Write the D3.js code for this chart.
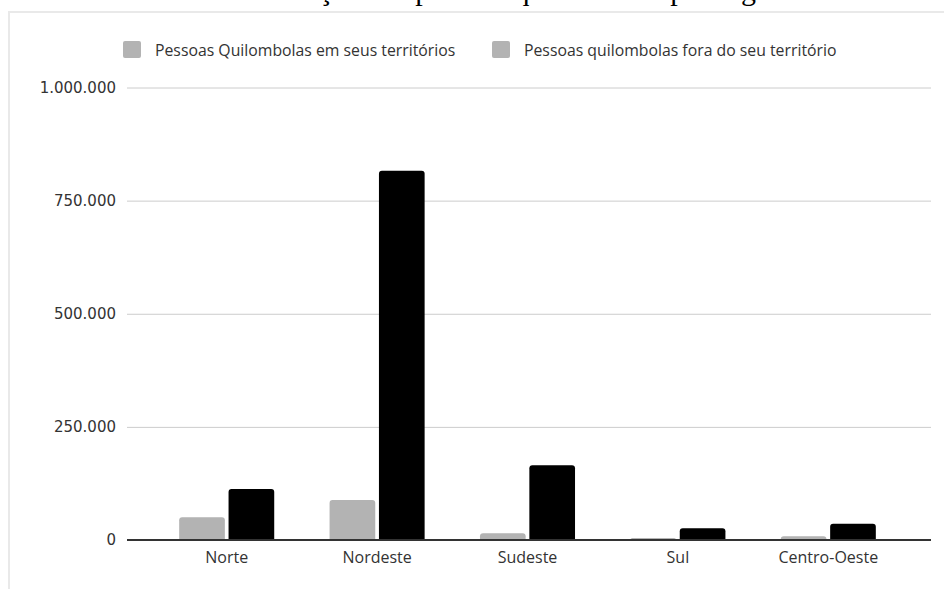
<!DOCTYPE html>
<html>
<head>
<meta charset="utf-8">
<script src="https://cdn.jsdelivr.net/npm/d3@7"></script>
<style>
  html, body { margin: 0; padding: 0; background: #fff; }
  svg { display: block; }
</style>
</head>
<body>
<svg id="chart" width="944" height="589"></svg>
<script>
// Regions and the two series (number of quilombola people)
const regions = ["Norte", "Nordeste", "Sudeste", "Sul", "Centro-Oeste"];
const seriesNames = ["Pessoas Quilombolas em seus territórios", "Pessoas quilombolas fora do seu território"];
const inTerritory = [50200, 88400, 14700, 4400, 8500];
const outsideTerritory = [112700, 816100, 165000, 25800, 36000];
const yTicks = [0, 250000, 500000, 750000, 1000000];
const titleText = "Distribuição das pessoas quilombolas por região";

const svg = d3.select("#chart");
const W = 944, H = 589;

// Caption line of the surrounding document, mostly above the frame
svg.append("text")
  .attr("x", 212).attr("y", 0)
  .attr("dominant-baseline", "alphabetic")
  .attr("font-family", "'Liberation Serif', 'Times New Roman', serif")
  .attr("font-size", 30)
  .attr("fill", "#000")
  .text(titleText);

// Chart frame
svg.append("rect").attr("x", 9).attr("y", 12).attr("width", W).attr("height", H)
  .attr("fill", "#fff").attr("stroke", "#e9e9e9").attr("stroke-width", 2);

const plotLeft = 127, plotRight = 931, plotTop = 87.5, plotBottom = 540;

const y = d3.scaleLinear().domain([0, 1000000]).range([plotBottom, plotTop]);
const x0 = d3.scaleBand().domain(regions).range([151.5, 903.5])
  .paddingInner(0.368).paddingOuter(0.184);
const x1 = d3.scaleBand().domain(seriesNames).range([0, x0.bandwidth()]).paddingInner(0.075);
const colors = d3.scaleOrdinal().domain(seriesNames).range(["#b3b3b3", "#000000"]);

const fmt = v => d3.format(",")(v).replace(/,/g, ".");

// Gridlines and y labels
const yAxis = d3.axisLeft(y).tickValues(yTicks).tickFormat(fmt)
  .tickSize(-(plotRight - plotLeft)).tickPadding(11);
const gy = svg.append("g").attr("transform", `translate(${plotLeft},0)`).call(yAxis);
gy.select(".domain").remove();
gy.selectAll(".tick line").attr("stroke", "#cccccc").attr("stroke-width", 1);
gy.selectAll(".tick text")
  .attr("font-family", "'DejaVu Sans', Verdana, sans-serif")
  .attr("font-size", 15).attr("fill", "#333");

// Bars
const rows = regions.map((r, i) => ({ region: r, values: [inTerritory[i], outsideTerritory[i]] }));
const g = svg.append("g");
const groups = g.selectAll("g.region").data(rows).join("g")
  .attr("class", "region")
  .attr("transform", d => `translate(${x0(d.region)},0)`);

function topRoundedBar(x, yTop, w, h, r) {
  r = Math.min(r, h, w / 2);
  return `M${x},${yTop + h}V${yTop + r}Q${x},${yTop} ${x + r},${yTop}` +
         `H${x + w - r}Q${x + w},${yTop} ${x + w},${yTop + r}V${yTop + h}Z`;
}

groups.selectAll("path").data(d => d.values.map((v, k) => ({ key: seriesNames[k], value: v })))
  .join("path")
  .attr("fill", d => colors(d.key))
  .attr("d", d => topRoundedBar(x1(d.key), y(d.value), x1.bandwidth(), y(0) - y(d.value), 3));

// Baseline and category labels
const xAxis = d3.axisBottom(x0).tickSize(0).tickPadding(12);
const gx = svg.append("g").attr("transform", `translate(0,${plotBottom})`).call(xAxis);
gx.select(".domain").remove();
gx.selectAll(".tick text")
  .attr("font-family", "'Open Sans', sans-serif")
  .attr("font-size", 16).attr("fill", "#333");
svg.append("line")
  .attr("x1", plotLeft).attr("x2", plotRight)
  .attr("y1", y(0)).attr("y2", y(0))
  .attr("stroke", "#333").attr("stroke-width", 2);

// Legend
const legendItems = [
  { name: seriesNames[0], x: 123 },
  { name: seriesNames[1], x: 492 }
];
const lg = svg.append("g").selectAll("g").data(legendItems).join("g")
  .attr("transform", d => `translate(${d.x},41)`);
lg.append("rect").attr("width", 18).attr("height", 17).attr("rx", 2)
  .attr("fill", "#b3b3b3");
lg.append("text").attr("x", 32).attr("y", 14.5)
  .attr("font-family", "'Open Sans', sans-serif")
  .attr("font-size", 15.8).attr("fill", "#333")
  .text(d => d.name);
</script>
</body>
</html>
